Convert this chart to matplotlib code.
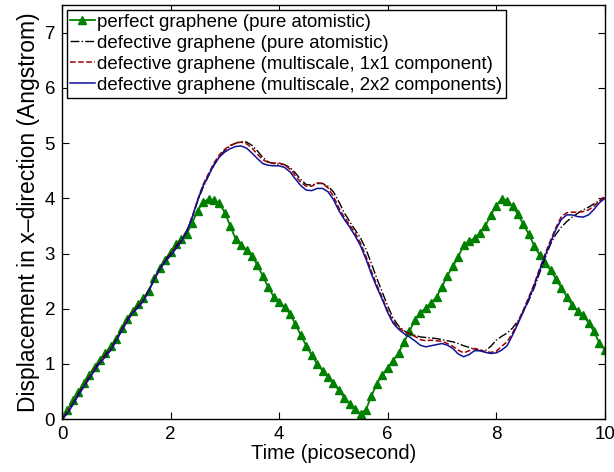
import numpy as np
import matplotlib.pyplot as plt

plt.rcParams['font.family'] = ['Liberation Sans', 'DejaVu Sans']

t = np.round(np.arange(0, 101) * 0.1, 1)

perfect_atomistic = [
    0.00, 0.17, 0.34, 0.50, 0.65, 0.80, 0.95, 1.08, 1.20, 1.32,
    1.46, 1.65, 1.82, 1.96, 2.08, 2.19, 2.33, 2.55, 2.73, 2.89,
    3.03, 3.17, 3.26, 3.36, 3.56, 3.78, 3.93, 3.99, 3.97, 3.91,
    3.74, 3.50, 3.26, 3.16, 3.06, 2.96, 2.79, 2.59, 2.39, 2.22,
    2.12, 2.03, 1.91, 1.72, 1.52, 1.33, 1.16, 1.00, 0.88, 0.77,
    0.65, 0.52, 0.39, 0.28, 0.18, 0.10, 0.17, 0.42, 0.64, 0.80,
    0.93, 1.06, 1.20, 1.39, 1.59, 1.79, 1.93, 2.01, 2.11, 2.21,
    2.40, 2.60, 2.77, 2.94, 3.16, 3.22, 3.28, 3.37, 3.50, 3.70,
    3.87, 3.99, 3.96, 3.86, 3.71, 3.53, 3.35, 3.14, 2.97, 2.83,
    2.70, 2.54, 2.38, 2.22, 2.06, 1.96, 1.88, 1.75, 1.59, 1.38,
    1.25]

defective_atomistic = [
    0.00, 0.13, 0.29, 0.46, 0.61, 0.76, 0.91, 1.05, 1.17, 1.29,
    1.44, 1.63, 1.80, 1.94, 2.05, 2.17, 2.34, 2.55, 2.73, 2.88,
    3.00, 3.13, 3.26, 3.42, 3.66, 3.95, 4.20, 4.41, 4.60, 4.76,
    4.87, 4.95, 5.00, 5.03, 5.02, 4.96, 4.86, 4.74, 4.66, 4.63,
    4.62, 4.61, 4.56, 4.46, 4.34, 4.25, 4.24, 4.27, 4.27, 4.22,
    4.12, 3.94, 3.74, 3.58, 3.43, 3.28, 3.08, 2.82, 2.55, 2.30,
    2.05, 1.83, 1.69, 1.60, 1.55, 1.52, 1.49, 1.48, 1.47, 1.46,
    1.44, 1.42, 1.40, 1.37, 1.33, 1.30, 1.27, 1.24, 1.24, 1.32,
    1.43, 1.50, 1.56, 1.65, 1.78, 1.95, 2.15, 2.38, 2.65, 2.92,
    3.17, 3.35, 3.48, 3.58, 3.66, 3.73, 3.79, 3.84, 3.90, 3.96,
    4.01]

multiscale_1x1 = [
    0.00, 0.12, 0.28, 0.45, 0.60, 0.75, 0.90, 1.04, 1.15, 1.27,
    1.43, 1.62, 1.79, 1.93, 2.04, 2.16, 2.33, 2.54, 2.72, 2.87,
    2.98, 3.11, 3.24, 3.41, 3.67, 3.98, 4.25, 4.45, 4.64, 4.79,
    4.89, 4.96, 5.00, 5.02, 4.99, 4.91, 4.80, 4.70, 4.65, 4.64,
    4.64, 4.61, 4.53, 4.41, 4.29, 4.22, 4.22, 4.28, 4.27, 4.19,
    4.04, 3.83, 3.66, 3.52, 3.37, 3.19, 2.95, 2.68, 2.43, 2.20,
    1.96, 1.77, 1.66, 1.59, 1.55, 1.50, 1.44, 1.42, 1.43, 1.42,
    1.41, 1.37, 1.32, 1.25, 1.20, 1.24, 1.28, 1.26, 1.22, 1.21,
    1.23, 1.32, 1.40, 1.56, 1.76, 1.98, 2.21, 2.45, 2.73, 2.99,
    3.24, 3.47, 3.67, 3.74, 3.75, 3.75, 3.76, 3.79, 3.86, 3.95,
    4.05]

multiscale_2x2 = [
    0.00, 0.10, 0.26, 0.43, 0.58, 0.73, 0.88, 1.02, 1.13, 1.25,
    1.42, 1.60, 1.77, 1.92, 2.02, 2.14, 2.32, 2.53, 2.71, 2.85,
    2.96, 3.09, 3.22, 3.40, 3.66, 3.97, 4.23, 4.42, 4.61, 4.75,
    4.84, 4.90, 4.94, 4.95, 4.91, 4.82, 4.72, 4.63, 4.60, 4.59,
    4.59, 4.56, 4.48, 4.35, 4.23, 4.15, 4.14, 4.18, 4.18, 4.12,
    3.98, 3.78, 3.62, 3.48, 3.32, 3.14, 2.90, 2.63, 2.39, 2.17,
    1.93, 1.74, 1.63, 1.55, 1.49, 1.42, 1.34, 1.31, 1.33, 1.35,
    1.37, 1.34, 1.28, 1.18, 1.13, 1.17, 1.24, 1.24, 1.21, 1.19,
    1.20, 1.25, 1.33, 1.52, 1.73, 1.95, 2.18, 2.42, 2.70, 2.96,
    3.20, 3.44, 3.62, 3.70, 3.70, 3.67, 3.66, 3.70, 3.80, 3.92,
    4.00]

labels = [
    'perfect graphene (pure atomistic)',
    'defective graphene (pure atomistic)',
    'defective graphene (multiscale, 1x1 component)',
    'defective graphene (multiscale, 2x2 components)',
]

fig = plt.figure(figsize=(6.14, 4.72), dpi=100)
ax = fig.add_axes([0.101, 0.112, 0.884, 0.877])

ax.plot(t, perfect_atomistic, '-', color='#008000', marker='^', markersize=5.5,
        markerfacecolor='#008000', markeredgecolor='#008000', lw=1.3, label=labels[0])
ax.plot(t, defective_atomistic, '-.', color='black', lw=1.0, label=labels[1])
ax.plot(t, multiscale_1x1, '--', color='#a00000', lw=1.1, label=labels[2])
ax.plot(t, multiscale_2x2, '-', color='#10109a', lw=1.1, label=labels[3])

ax.set_xlim(0, 10)
ax.set_ylim(0, 7.5)
ax.set_xticks([0, 2, 4, 6, 8, 10])
ax.set_yticks(range(8))
ax.tick_params(direction='in', top=True, right=True, length=5, width=0.8,
               labelsize=13.5, pad=5)
for s in ax.spines.values():
    s.set_linewidth(1.0)

ax.set_xlabel('Time (picosecond)', fontsize=14.5, labelpad=1)
ax.set_ylabel('Displacement in x\u2013direction (Angstrom)', fontsize=16.5, labelpad=3)

leg = ax.legend(loc='upper left', fontsize=13.4, handlelength=1.3,
                handletextpad=0.15, borderpad=0.2, labelspacing=0.22,
                borderaxespad=0.25, fancybox=False, framealpha=1, edgecolor='black')
leg.get_frame().set_linewidth(1.0)

fig.savefig('out.png', dpi=100)
